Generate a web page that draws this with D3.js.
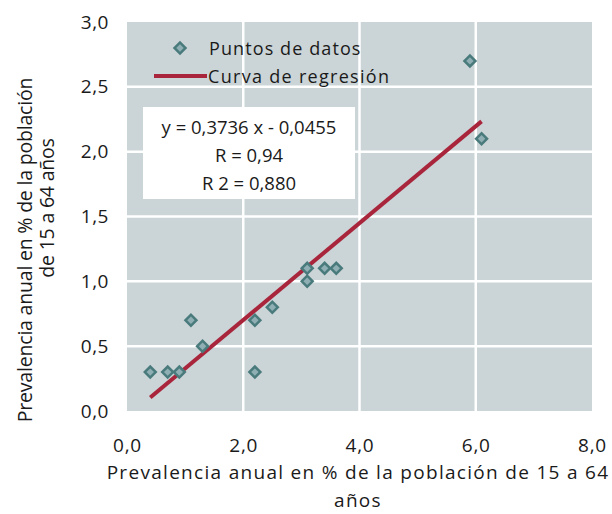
<!DOCTYPE html>
<html>
<head>
<meta charset="utf-8">
<script src="https://cdn.jsdelivr.net/npm/d3@7"></script>
<style>
  body { margin: 0; background: #fff; }
  text { font-family: "Open Sans", "DejaVu Sans", sans-serif; fill: #1a1a1a; }
</style>
</head>
<body>
<svg id="chart" width="612" height="514"></svg>
<script>
// Data points
const xValues = [0.4, 0.7, 0.9, 1.1, 1.3, 2.2, 2.2, 2.5, 3.1, 3.1, 3.4, 3.6, 5.9, 6.1];
const yValues = [0.3, 0.3, 0.3, 0.7, 0.5, 0.7, 0.3, 0.8, 1.1, 1.0, 1.1, 1.1, 2.7, 2.1];

// Regression line (as printed on the chart)
const slope = 0.3736;
const intercept = -0.0455;
const fitRange = [0.4, 6.1];

const xTicks = [0, 2, 4, 6, 8];
const yTicks = [0, 0.5, 1, 1.5, 2, 2.5, 3];
const equationLines = ['y = 0,3736 x - 0,0455', 'R  = 0,94', 'R 2 = 0,880'];

const svg = d3.select('#chart');

const plot = { left: 127, right: 592, top: 22, bottom: 411 };

const x = d3.scaleLinear().domain([0, 8]).range([plot.left, plot.right]);
const y = d3.scaleLinear().domain([0, 3]).range([plot.bottom, plot.top]);
const fmt = v => d3.format('.1f')(v).replace('.', ',');

// Plot background
svg.append('rect')
    .attr('x', plot.left)
    .attr('y', plot.top)
    .attr('width', plot.right - plot.left)
    .attr('height', plot.bottom - plot.top)
    .style('fill', '#cbd4d7');

// Gridlines
svg.selectAll('.vgrid')
    .data(xTicks.slice(1, -1))
    .enter()
    .append('line')
    .attr('x1', d => x(d)).attr('x2', d => x(d))
    .attr('y1', plot.top).attr('y2', plot.bottom)
    .style('stroke', '#fff')
    .style('stroke-width', 2.5);

svg.selectAll('.hgrid')
    .data(yTicks.slice(1, -1))
    .enter()
    .append('line')
    .attr('x1', plot.left).attr('x2', plot.right)
    .attr('y1', d => y(d)).attr('y2', d => y(d))
    .style('stroke', '#fff')
    .style('stroke-width', 2.5);

// Axes (labels only)
const xAxis = svg.append('g')
    .attr('transform', `translate(0, ${plot.bottom + 24})`)
    .call(d3.axisBottom(x).tickValues(xTicks).tickFormat(fmt).tickSize(0));
xAxis.select('.domain').remove();
xAxis.selectAll('text')
    .style('font-size', '19px')
    .style('letter-spacing', '0.8px')
    .style('fill', '#1a1a1a');

const yAxis = svg.append('g')
    .attr('transform', `translate(${plot.left - 18}, 0)`)
    .call(d3.axisLeft(y).tickValues(yTicks).tickFormat(fmt).tickSize(0));
yAxis.select('.domain').remove();
yAxis.selectAll('text')
    .attr('x', 0)
    .style('font-size', '19px')
    .style('letter-spacing', '0.5px')
    .style('fill', '#1a1a1a');

// Regression line
svg.append('line')
    .attr('x1', x(fitRange[0]))
    .attr('y1', y(slope * fitRange[0] + intercept))
    .attr('x2', x(fitRange[1]))
    .attr('y2', y(slope * fitRange[1] + intercept))
    .style('stroke', '#a8253b')
    .style('stroke-width', 4);

// Data points
const diamond = d3.symbol().type(d3.symbolSquare).size(60);
svg.selectAll('.pt')
    .data(xValues.map((v, i) => ({ x: v, y: yValues[i] })))
    .enter()
    .append('path')
    .attr('d', diamond)
    .attr('transform', d => `translate(${x(d.x)}, ${y(d.y)}) rotate(45)`)
    .style('fill', '#8fafb4')
    .style('stroke', '#4a7b7c')
    .style('stroke-width', 2.5);

// Legend
svg.append('path')
    .attr('d', diamond)
    .attr('transform', 'translate(180, 48) rotate(45)')
    .style('fill', '#8fafb4')
    .style('stroke', '#4a7b7c')
    .style('stroke-width', 2.5);
svg.append('text')
    .attr('x', 209).attr('y', 55)
    .style('font-size', '18px')
    .style('letter-spacing', '1.1px')
    .text('Puntos de datos');
svg.append('line')
    .attr('x1', 154).attr('x2', 207)
    .attr('y1', 76).attr('y2', 76)
    .style('stroke', '#a8253b')
    .style('stroke-width', 4);
svg.append('text')
    .attr('x', 208).attr('y', 83)
    .style('font-size', '18px')
    .style('letter-spacing', '1.3px')
    .text('Curva de regresión');

// Equation box
svg.append('rect')
    .attr('x', 143).attr('y', 107)
    .attr('width', 212).attr('height', 92)
    .style('fill', '#fff');
svg.selectAll('.eq')
    .data(equationLines)
    .enter()
    .append('text')
    .attr('x', 249)
    .attr('y', (d, i) => 134 + i * 28)
    .attr('text-anchor', 'middle')
    .style('font-size', '18.5px')
    .text(d => d);

// Axis titles
svg.append('text')
    .attr('x', 358).attr('y', 479)
    .attr('text-anchor', 'middle')
    .style('font-size', '19px')
    .style('letter-spacing', '1.3px')
    .text('Prevalencia anual en % de la población de 15 a 64');
svg.append('text')
    .attr('x', 358).attr('y', 507)
    .attr('text-anchor', 'middle')
    .style('font-size', '19px')
    .style('letter-spacing', '1.3px')
    .text('años');

svg.append('text')
    .attr('transform', 'translate(32, 250) rotate(-90)')
    .attr('text-anchor', 'middle')
    .style('font-size', '19.5px')
    .style('letter-spacing', '-0.2px')
    .text('Prevalencia anual en % de la población');
svg.append('text')
    .attr('transform', 'translate(54, 208) rotate(-90)')
    .attr('text-anchor', 'middle')
    .style('font-size', '19.5px')
    .style('letter-spacing', '-0.2px')
    .text('de 15 a 64 años');
</script>
</body>
</html>
